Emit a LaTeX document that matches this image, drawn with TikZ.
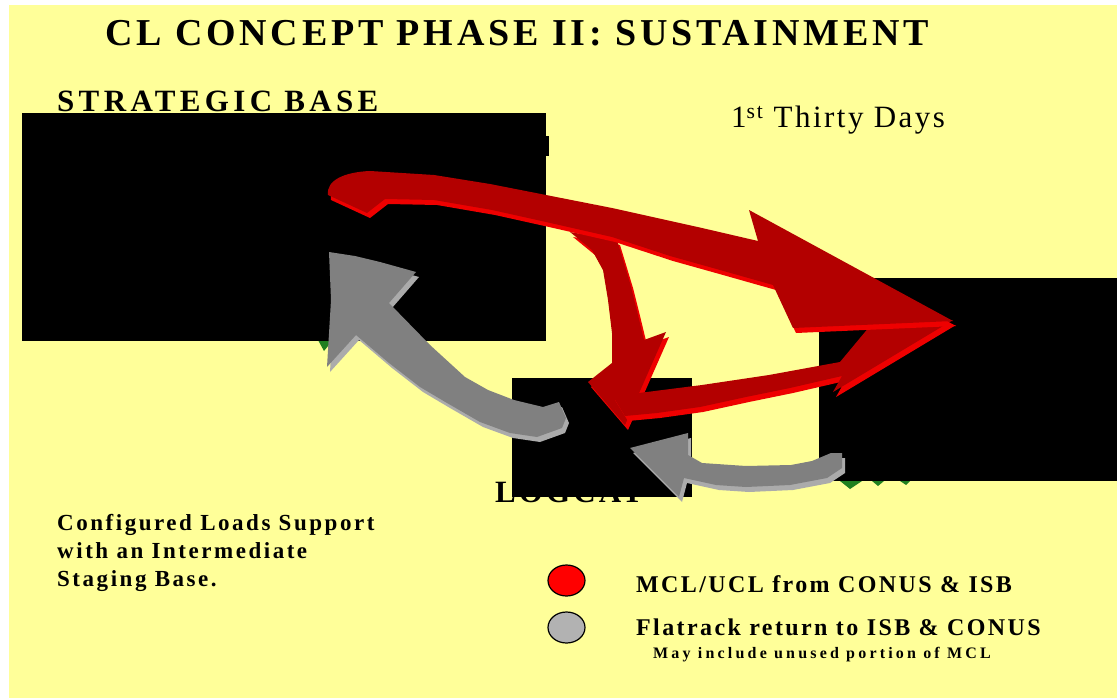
\documentclass[tikz,border=0pt]{standalone}
\usepackage{fontspec}
\usetikzlibrary{shapes.geometric}
\setmainfont{Liberation Serif}
\newfontfamily\trackfont[LetterSpace=10]{Liberation Serif}
\newfontfamily\stratfont[LetterSpace=14]{Liberation Serif}
\newfontfamily\notefont[LetterSpace=11]{Liberation Serif}
\newfontfamily\smalltrack[LetterSpace=20]{Liberation Serif}
\newfontfamily\daysfont[LetterSpace=8]{Liberation Serif}
\definecolor{bgyellow}{HTML}{FFFF99}
\definecolor{reddark}{HTML}{B30000}
\definecolor{redside}{HTML}{EE0000}
\definecolor{graytop}{HTML}{808080}
\definecolor{grayside}{HTML}{ABABAB}
\definecolor{legendgray}{HTML}{B2B2B2}
\definecolor{greenbit}{HTML}{1F7F1F}
\tikzset{
  lbl/.style={anchor=base west, inner sep=0pt, text=black},
  legenddot/.style={draw=black, line width=1.2pt, ellipse, minimum width=37pt, minimum height=31pt, inner sep=0pt},
  basebox/.style={fill=black},
}
\newcommand\fatshape[3]{%
  \fill[#2, shift={(3,5)}] #1;
  \fill[#3] #1;}
\begin{document}
\begin{tikzpicture}[x=1pt,y=-1pt]
\useasboundingbox (0,0) rectangle (1117,698);
\fill[white] (0,0) rectangle (1117,698);
\fill[bgyellow] (9,5) rectangle (1117,698);

% texts
\node[lbl, font=\trackfont\bfseries\fontsize{38}{42}\selectfont] (title) at (105,46) {CL CONCEPT PHASE II: SUSTAINMENT};
\node[lbl, font=\stratfont\bfseries\fontsize{31}{34}\selectfont] (strat) at (57,112) {STRATEGIC BASE};
\node[lbl, font=\daysfont\fontsize{31}{34}\selectfont] (days) at (731,128) {1\textsuperscript{st} Thirty Days};
\node[lbl, font=\trackfont\bfseries\fontsize{31}{34}\selectfont] (logcat) at (495,502) {LOGCAT};
\node[lbl, font=\notefont\bfseries\fontsize{23}{28}\selectfont, align=left, anchor=north west] (note) at (57,514)
  {Configured Loads Support\\with an Intermediate\\Staging Base.};

% legend
\node[legenddot, fill=red] (lr) at (566.5,580.5) {};
\node[legenddot, fill=legendgray] (lg) at (566.5,627.5) {};
\node[lbl, font=\trackfont\bfseries\fontsize{24}{28}\selectfont] (t1) at (636,592) {MCL/UCL from CONUS \& ISB};
\node[lbl, font=\trackfont\bfseries\fontsize{24}{28}\selectfont] (t2) at (636,635) {Flatrack return to ISB \& CONUS};
\node[lbl, font=\smalltrack\bfseries\fontsize{16}{19}\selectfont] (t3) at (653,658) {May include unused portion of MCL};

% green bits
\fill[greenbit] (318,340) -- (333,340) -- (324,351) -- cycle;
\fill[greenbit] (840,481) -- (862,481) -- (850,489) -- cycle;
\fill[greenbit] (872,481) -- (884,481) -- (878,486) -- cycle;
\fill[greenbit] (900,481) -- (910,481) -- (906,485) -- cycle;
\fill[greenbit] (690,430) circle (2);

% bases (black boxes)
\fill[basebox] (22,113) rectangle (546,341);
\fill[basebox] (546,136) rectangle (549,156);
\fill[basebox] (512,378) rectangle (692,497);
\fill[basebox] (819,278) rectangle (1117,481);

% gray arrow 1: LOGCAT -> strategic base
\fatshape{(559,402) -- (543,407) -- (514,400) -- (488,390) -- (465,377) -- (430,345) -- (389,303) -- (416,272)
  -- (380,262) -- (355,256) -- (329,252) -- (331,300) -- (327,367) -- (356,335) -- (389,363) -- (420,387)
  -- (447,403) -- (480,422) -- (510,433) -- (537,437) -- (562,428) -- (566,418) -- cycle}{grayside}{graytop}

% gray arrow 2: right box -> LOGCAT
\fatshape{(842,453) -- (831,453) -- (812,461) -- (791,465) -- (746,466) -- (702,463) -- (688,455) -- (688,433)
  -- (630,448) -- (679,497) -- (684,478) -- (716,485) -- (746,487) -- (790,485) -- (827,478) -- (842,468) -- cycle}{grayside}{graytop}

% red arrow 2: branch down to LOGCAT
\fatshape{(570,232) -- (617,240) -- (630,283) -- (638,315) -- (644,340) -- (666,332) -- (625,425) -- (588,382)
  -- (612,363) -- (612,333) -- (608,300) -- (603,270) -- (592,250) -- cycle}{redside}{reddark}

% red arrow 3: LOGCAT to right box
\fatshape{(612,395) -- (639,393) -- (702,385) -- (769,375) -- (840,362) -- (870,326) -- (953,320) -- (833,392)
  -- (842,376) -- (790,388) -- (746,397) -- (700,407) -- (657,413) -- (625,416) -- cycle}{redside}{reddark}

% red arrow 1: strategic base to right box
\fatshape{(328,195) .. controls (326,180) and (345,172) .. (370,171) -- (434,175) -- (490,184) -- (546,195)
  -- (612,208) -- (702,228) -- (758,241) -- (749,210) -- (953,321) -- (793,328) -- (773,285) -- (720,270)
  -- (670,256) -- (612,237) -- (546,222) -- (492,210) -- (434,200) -- (385,199) -- (367,213) -- cycle}{redside}{reddark}
\end{tikzpicture}
\end{document}
